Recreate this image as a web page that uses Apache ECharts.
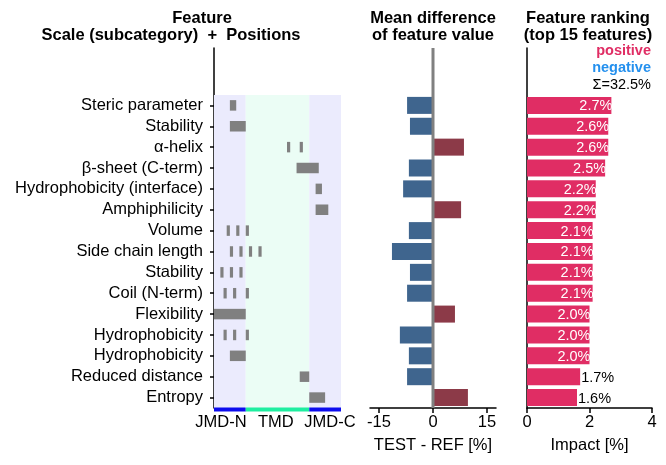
<!DOCTYPE html>
<html lang="en">
<head>
<meta charset="UTF-8">
<title>Feature ranking</title>
<script src="https://cdn.jsdelivr.net/npm/echarts@6/dist/echarts.min.js"></script>
<style>html, body { margin: 0; padding: 0; background: #fff; }</style>
</head>
<body>
<div id="main" style="width: 666px; height: 465px;"></div>
<script>
// features, top to bottom
const features = ['Steric parameter', 'Stability', 'α-helix', 'β-sheet (C-term)',
    'Hydrophobicity (interface)', 'Amphiphilicity', 'Volume', 'Side chain length',
    'Stability', 'Coil (N-term)', 'Flexibility', 'Hydrophobicity', 'Hydrophobicity',
    'Reduced distance', 'Entropy']

// residue positions (1-based) used by each feature
const positions = [
    [6, 7], [6, 7, 8, 9, 10], [24, 28], [27, 28, 29, 30, 31, 32, 33], [33, 34],
    [33, 34, 35, 36], [5, 8, 11], [6, 9, 12, 15], [3, 6, 9], [4, 7, 11],
    [1, 2, 3, 4, 5, 6, 7, 8, 9, 10], [4, 7, 11], [6, 7, 8, 9, 10], [28, 29, 30],
    [31, 32, 33, 34, 35]
]

// mean difference of feature value (TEST - REF, %)
const diffValues = [-7.2, -6.4, 8.6, -6.7, -8.3, 7.8, -6.7, -11.4, -6.4, -7.2, 6.1, -9.2, -6.7, -7.2, 9.7]

// feature impact (%)
const impactValues = [2.7, 2.6, 2.6, 2.5, 2.2, 2.2, 2.1, 2.1, 2.1, 2.1, 2.0, 2.0, 2.0, 1.7, 1.6]
const impactSum = '32.5%'

// sequence parts
const partNames = ['JMD-N', 'TMD', 'JMD-C']
const partStart = [0, 10, 30]
const partEnd = [10, 30, 40]

const FONT = '"Liberation Sans", Arial, sans-serif'
const rowIdx = features.map((f, i) => i)
const yMin = -2.75
const yMax = 14.5

const element = document.querySelector('#main')
const chart = echarts.init(element, null, { renderer: 'canvas' })

const rectBetween = (api, x0, x1, row, h) => {
    const a = api.coord([x0, row])
    const b = api.coord([x1, row])
    return { x: Math.min(a[0], b[0]), y: a[1] - h / 2, width: Math.abs(b[0] - a[0]), height: h }
}

const renderPart = (params, api) => {
    const tmd = api.value(2) === 1
    const tl = api.coord([api.value(0), -0.5])
    const br = api.coord([api.value(1), 14.5])
    return {
        type: 'group',
        children: [
            { type: 'rect', shape: { x: tl[0], y: tl[1], width: br[0] - tl[0], height: br[1] - tl[1] },
              style: { fill: tmd ? '#ebfdf5' : '#ebebfd' } },
            { type: 'rect', shape: { x: tl[0], y: br[1] - 0.5, width: br[0] - tl[0], height: 4 },
              style: { fill: tmd ? '#1eeea0' : '#0c0cee' } }
        ]
    }
}

// one gray box per run of neighbouring residues
const renderRun = (params, api) => {
    return { type: 'rect', shape: rectBetween(api, api.value(0) - 1, api.value(1), api.value(2), 10.5),
             style: { fill: '#808080' } }
}

const renderDiff = (params, api) => {
    const v = api.value(0)
    return { type: 'rect', shape: rectBetween(api, 0, v, api.value(1), 17),
             style: { fill: v < 0 ? '#3f658e' : '#8c3a48' } }
}

const renderImpact = (params, api) => {
    const v = api.value(0)
    const shape = rectBetween(api, 0, v, api.value(1), 17)
    const inside = v >= 1.8
    const end = shape.x + shape.width
    return {
        type: 'group',
        children: [
            { type: 'rect', shape: shape, style: { fill: '#e02d64' } },
            { type: 'text', style: {
                text: v.toFixed(1) + '%', x: end + 1, y: shape.y + shape.height / 2 + 1,
                align: inside ? 'right' : 'left', verticalAlign: 'middle',
                fill: inside ? '#fff' : '#000', font: '14.5px ' + FONT } }
        ]
    }
}

const partData = partNames.map((n, i) => [partStart[i], partEnd[i], n === 'TMD' ? 1 : 0])
const runData = []
positions.forEach((list, row) => {
    let s = list[0]
    let e = list[0]
    for (let k = 1; k <= list.length; k++) {
        if (k < list.length && list[k] === e + 1) {
            e = list[k]
        } else {
            runData.push([s, e, row])
            if (k < list.length) {
                s = list[k]
                e = list[k]
            }
        }
    }
})
const diffData = diffValues.map((v, i) => [v, i])
const impactData = impactValues.map((v, i) => [v, i])

const titleStyle = { fontFamily: FONT, fontSize: 16.5, fontWeight: 'bold', color: '#000' }
const axisText = { fontFamily: FONT, fontSize: 16.5, color: '#000' }
const blackLine = { color: '#000', width: 1.5 }
const legendText = (color, weight) => ({ fontFamily: FONT, fontSize: 14.5, fontWeight: weight, color: color })

const option = {
    animation: false,
    backgroundColor: '#fff',
    textStyle: { fontFamily: FONT },
    title: [
        { text: 'Feature', left: 202, top: 10, padding: 0, textAlign: 'center', textStyle: titleStyle },
        { text: 'Scale (subcategory)  +  Positions', left: 171, top: 27, padding: 0, textAlign: 'center', textStyle: titleStyle },
        { text: 'Mean difference', left: 433, top: 10, padding: 0, textAlign: 'center', textStyle: titleStyle },
        { text: 'of feature value', left: 433, top: 27, padding: 0, textAlign: 'center', textStyle: titleStyle },
        { text: 'Feature ranking', left: 588, top: 10, padding: 0, textAlign: 'center', textStyle: titleStyle },
        { text: '(top 15 features)', left: 588, top: 27, padding: 0, textAlign: 'center', textStyle: titleStyle },
        { text: 'positive', right: 15, top: 43, padding: 0, textStyle: legendText('#e02d64', 'bold') },
        { text: 'negative', right: 15, top: 60, padding: 0, textStyle: legendText('#2490ee', 'bold') },
        { text: 'Σ=' + impactSum, right: 15, top: 77, padding: 0, textStyle: legendText('#000', 'normal') }
    ],
    grid: [
        { left: 214, right: 325, top: 48, bottom: 57 },
        { left: 370, right: 170, top: 48, bottom: 57 },
        { left: 527, right: 14, top: 48, bottom: 57 }
    ],
    xAxis: [
        { type: 'value', gridIndex: 0, min: 0, max: 40,
          axisLine: { show: false, onZero: false }, axisTick: { show: false }, splitLine: { show: false },
          axisLabel: { customValues: [2.2, 19.5, 36.5], margin: 6, ...axisText,
                       formatter: v => v < 8 ? partNames[0] : (v < 30 ? partNames[1] : partNames[2]) } },
        { type: 'value', gridIndex: 1, min: -17.5, max: 17.5,
          axisLine: { show: true, onZero: false, lineStyle: blackLine },
          axisTick: { show: true, customValues: [-15, 0, 15], length: 5, lineStyle: blackLine },
          axisLabel: { customValues: [-15, 0, 15], margin: 6, ...axisText },
          splitLine: { show: false },
          name: 'TEST - REF [%]', nameLocation: 'middle', nameGap: 29, nameTextStyle: axisText },
        { type: 'value', gridIndex: 2, min: 0, max: 4, interval: 2,
          axisLine: { show: true, onZero: false, lineStyle: blackLine },
          axisTick: { show: true, length: 5, lineStyle: blackLine },
          axisLabel: { margin: 6, ...axisText },
          splitLine: { show: false },
          name: 'Impact [%]', nameLocation: 'middle', nameGap: 29, nameTextStyle: axisText }
    ],
    yAxis: [
        { type: 'value', gridIndex: 0, inverse: true, min: yMin, max: yMax,
          axisLine: { show: true, onZero: false, lineStyle: blackLine },
          axisTick: { show: true, customValues: rowIdx, length: 4, lineStyle: blackLine },
          axisLabel: { customValues: rowIdx, margin: 11, ...axisText, formatter: v => features[Math.round(v)] },
          splitLine: { show: false } },
        { type: 'value', gridIndex: 1, inverse: true, min: yMin, max: yMax,
          axisLine: { show: false }, axisTick: { show: false }, axisLabel: { show: false }, splitLine: { show: false } },
        { type: 'value', gridIndex: 2, inverse: true, min: yMin, max: yMax,
          axisLine: { show: true, onZero: false, lineStyle: blackLine }, axisTick: { show: false },
          axisLabel: { show: false }, splitLine: { show: false } }
    ],
    series: [
        { type: 'custom', xAxisIndex: 0, yAxisIndex: 0, renderItem: renderPart, data: partData, z: 1 },
        { type: 'custom', xAxisIndex: 0, yAxisIndex: 0, renderItem: renderRun, data: runData, z: 2 },
        { type: 'custom', xAxisIndex: 1, yAxisIndex: 1, renderItem: renderDiff, data: diffData, z: 2 },
        { type: 'line', xAxisIndex: 1, yAxisIndex: 1, data: [[0, yMin], [0, yMax]], symbol: 'none',
          lineStyle: { color: '#808080', width: 3 }, z: 3 },
        { type: 'custom', xAxisIndex: 2, yAxisIndex: 2, renderItem: renderImpact, data: impactData, z: 2 }
    ]
}

chart.setOption(option)
</script>
</body>
</html>
